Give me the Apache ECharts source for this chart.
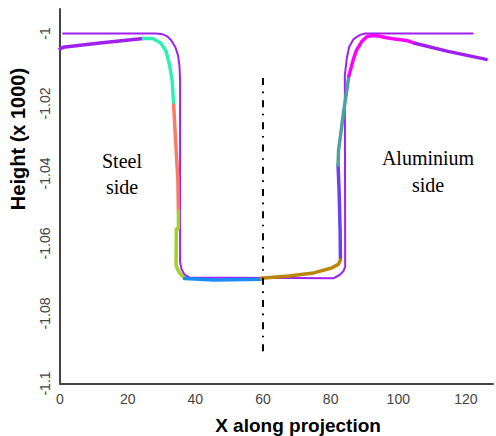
<!DOCTYPE html>
<html>
<head>
<meta charset="utf-8">
<script src="https://cdn.jsdelivr.net/npm/echarts@6/dist/echarts.min.js"></script>
<style>
html,body{margin:0;padding:0;background:#fff;}
#chart{width:496px;height:436px;}
</style>
</head>
<body>
<div id="chart"></div>
<script>
// ---- data (x along projection, height x1000) ----
const xTicks = [0, 20, 40, 60, 80, 100, 120];
const yTicks = [-1.1, -1.08, -1.06, -1.04, -1.02, -1];

// measured profile, coloured segments
const profilePurpleLeft = [[0,-1.0044],[0.9,-1.0039],[11.8,-1.0027],[24.6,-1.0014]];
const profileAqua = [[24.6,-1.0014],[27.4,-1.0014],[29.9,-1.0028],[31.4,-1.0052],[32.4,-1.0090],[33.2,-1.0138],[33.6,-1.0204]];
const profileSalmon = [[33.6,-1.0204],[34.0,-1.0276],[34.85,-1.0419],[35.0,-1.0507]];
const profileGreen = [[35.0,-1.0507],[35.0,-1.0556],[34.4,-1.0559],[34.3,-1.0661],[34.85,-1.0676],[35.6,-1.0687],[36.8,-1.0699]];
const profileBlue = [[36.8,-1.0700],[45.6,-1.0704],[59.4,-1.0702]];
const profileBrown = [[59.4,-1.0699],[67.6,-1.0693],[75.0,-1.0684],[80.3,-1.0670],[82.35,-1.0659],[82.9,-1.0647],[82.9,-1.0639]];
const profileViolet = [[82.9,-1.0639],[82.8,-1.0561],[82.5,-1.0447],[82.2,-1.0376]];
const profileTeal = [[82.2,-1.0376],[82.35,-1.0333],[83.8,-1.0227],[85.4,-1.0121]];
const profileMagenta = [[85.4,-1.0121],[86.8,-1.0071],[87.7,-1.0047],[89.2,-1.0023],[90.7,-1.0009],[92.15,-1.0006],[94.1,-1.0007],[96.6,-1.0012],[99.0,-1.0016],[102.9,-1.0021],[104.9,-1.0028]];
const profilePurpleRight = [[104.9,-1.0028],[114.7,-1.0051],[126.0,-1.0074]];

// ideal outline (thin purple)
const outline = [[0.9,-1.0],[28.5,-1.0],[30.3,-1.0002],[31.8,-1.0009],[32.9,-1.0020],[34.1,-1.0039],[34.85,-1.0061],[35.3,-1.0090],[35.5,-1.0133],
  [35.5,-1.0653],[35.9,-1.0673],[36.8,-1.0689],[38.2,-1.0697],[80.9,-1.0699],[82.65,-1.0690],[83.8,-1.0679],[84.3,-1.0666],
  [84.3,-1.0619],[84.2,-1.0119],[84.8,-1.0070],[85.5,-1.0038],[86.8,-1.0016],[88.7,-1.0004],[90.2,-1.0],[122.0,-1.0]];

// centre line (dash-dot)
const centreLine = [[60,-1.0127],[60,-1.0916]];

const labels = [
  {text:'Steel', x:122, y:161},
  {text:'side', x:122, y:187},
  {text:'Aluminium', x:428, y:158},
  {text:'side', x:428, y:185}
];

const chart = echarts.init(document.getElementById('chart'), null, {renderer:'svg'});

function seg(data, color, width) {
  return {type:'line', data:data, symbol:'none', showSymbol:false, silent:true,
    lineStyle:{color:color, width:width, cap:'round', join:'round'}, z:3};
}

const option = {
  animation:false,
  grid:{left:60, top:9, right:1, bottom:52.5},
  xAxis:{type:'value', min:0, max:128, interval:20,
    axisLine:{show:true, lineStyle:{color:'#444', width:2}},
    axisTick:{show:false}, splitLine:{show:false},
    axisLabel:{margin:8, color:'#444', fontFamily:'Arial, Liberation Sans', fontSize:14,
      formatter:function(v){return xTicks.indexOf(Math.round(v))>=0 && Math.abs(v-Math.round(v))<1e-6 ? String(Math.round(v)) : '';}}
  },
  yAxis:{type:'value', min:-1.1, max:-0.993, interval:0.02,
    axisLine:{show:true, lineStyle:{color:'#444', width:2}},
    axisTick:{show:false}, splitLine:{show:false},
    axisLabel:{margin:8, rotate:90, color:'#444', fontFamily:'Arial, Liberation Sans', fontSize:14,
      formatter:function(v){
        for (const t of yTicks) { if (Math.abs(t - v) < 1e-6) return String(t); }
        return '';
      }}
  },
  graphic:[
    {type:'text', x:18, y:139, rotation:Math.PI/2,
      style:{text:'Height (x 1000)', font:'bold 20px Arial, Liberation Sans', fill:'#000', align:'center', verticalAlign:'middle'}},
    {type:'text', x:298, y:425,
      style:{text:'X along projection', font:'bold 19px Arial, Liberation Sans', fill:'#000', align:'center', verticalAlign:'middle'}}
  ].concat(labels.map(function(l){
    return {type:'text', x:l.x, y:l.y, style:{text:l.text, font:'20px "Liberation Serif", "Times New Roman", serif', fill:'#000', align:'center', verticalAlign:'middle'}};
  })),
  series:[
    Object.assign(seg(outline, '#a020f0', 2), {z:2}),
    seg(profilePurpleLeft, '#a020f0', 3.5),
    seg(profileAqua, '#2ef0b4', 3.5),
    seg(profileSalmon, '#fa7a64', 3.5),
    seg(profileGreen, '#a0d22a', 3.5),
    seg(profileBlue, '#1a8cf5', 3.5),
    seg(profileBrown, '#b8860b', 3.5),
    seg(profileViolet, '#6a40f5', 3.5),
    seg(profileTeal, '#50a0a0', 3.5),
    seg(profileMagenta, '#ff00ff', 3.5),
    seg(profilePurpleRight, '#a020f0', 3.5),
    {type:'line', data:centreLine, symbol:'none', silent:true, z:4,
      lineStyle:{color:'#000', width:2, type:[7,6.6,1.6,7], cap:'butt'}}
  ]
};
chart.setOption(option);
</script>
</body>
</html>
